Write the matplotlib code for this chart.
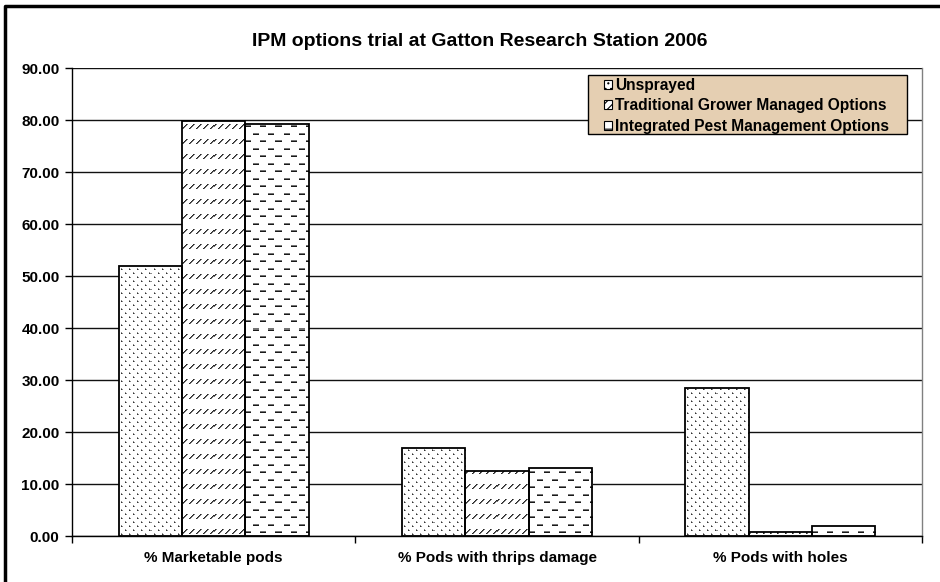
import numpy as np
import matplotlib
matplotlib.use("Agg")
import matplotlib.pyplot as plt
from matplotlib.patches import Patch, Rectangle
from matplotlib.lines import Line2D

plt.rcParams['font.family'] = ['Liberation Sans', 'DejaVu Sans']
plt.rcParams['font.weight'] = 'bold'
plt.rcParams['hatch.linewidth'] = 0.8

title = "IPM options trial at Gatton Research Station 2006"
categories = ["% Marketable pods", "% Pods with thrips damage", "% Pods with holes"]
series_names = ["Unsprayed", "Traditional Grower Managed Options",
                "Integrated Pest Management Options"]
unsprayed = [52.0, 16.9, 28.5]
traditional = [79.8, 12.5, 0.8]
ipm = [79.3, 13.0, 2.0]
yticks = np.arange(0, 100, 10)


# ---- fill textures (grey level images, 0 = black, 1 = white) ----
def tex_dots(h, w):
    t = np.ones((h, w))
    for r in range(h):
        if r % 4 != 1:
            continue
        shift = 4 * ((r // 4) % 2)
        for c in range(w):
            if (c + shift) % 8 == 2:
                t[r, c] = 0.2
                if c + 1 < w:
                    t[r, c + 1] = 0.55
                if r + 1 < h:
                    t[r + 1, c] = 0.55
    return t


def tex_slashes(h, w):
    t = np.ones((h, w))
    for r0 in range(2, h, 15):
        for c0 in range(0, w, 7):
            for k in range(5):
                r, c = r0 + k, c0 + k
                if r < h and c < w:
                    t[r, c] = 0.15
                if r < h and c + 1 < w:
                    t[r, c + 1] = min(t[r, c + 1], 0.45)
    return t


def tex_dashes(h, w):
    t = np.ones((h, w))
    for r0 in range(3, h, 15):
        for j, rr in enumerate((r0, r0 + 7)):
            shift = 7 * j
            for c in range(w):
                if (c + shift) % 15 < 6:
                    if rr < h:
                        t[rr, c] = 0.1
                    if rr + 1 < h:
                        t[rr + 1, c] = min(t[rr + 1, c], 0.45)
    return t


textures = [tex_dots, tex_slashes, tex_dashes]
legend_hatches = ['...', '////', '--']

fig = plt.figure(figsize=(9.4, 5.82), dpi=100)
W, H = 940, 582
ax = fig.add_axes([72 / W, 1 - 536 / H, 850 / W, 468 / H])

x = np.arange(len(categories))
width = 0.2235
series = [unsprayed, traditional, ipm]

ax.set_xlim(-0.5, 2.5)
ax.set_ylim(0, 90)

px_per_x = 850 / 3.0
px_per_y = 468 / 90.0

for i, vals in enumerate(series):
    pos = x + (i - 1) * width
    bars = ax.bar(pos, vals, width, color='white', edgecolor='none', zorder=2)
    for bar, v in zip(bars, vals):
        x0 = bar.get_x()
        wpx = max(int(round(width * px_per_x)), 1)
        hpx = max(int(round(v * px_per_y)), 1)
        tex = textures[i](hpx, wpx)
        im = ax.imshow(tex, extent=[x0, x0 + width, 0, v], origin='lower',
                       cmap='gray', vmin=0, vmax=1, interpolation='nearest',
                       aspect='auto', zorder=3)
        im.set_clip_path(bar)
    ax.bar(pos, vals, width, fill=False, edgecolor='black', linewidth=1.3,
           zorder=4)

ax.set_xlim(-0.5, 2.5)
ax.set_ylim(0, 90)
ax.set_aspect('auto')

ax.set_yticks(yticks)
ax.set_yticklabels([f"{v:.2f}" for v in yticks], fontsize=11, fontweight='bold')
ax.yaxis.grid(True, color='#111111', linewidth=1.0, zorder=0)
ax.set_axisbelow(True)
ax.tick_params(axis='y', direction='out', length=5, width=1, pad=4,
               colors='black')

ax.set_xticks([-0.5, 0.5, 1.5, 2.5])
ax.set_xticklabels([])
ax.set_xticks(x, minor=True)
ax.set_xticklabels(categories, minor=True, fontsize=11, fontweight='bold')
ax.tick_params(axis='x', which='major', direction='out', length=5, width=1)
ax.tick_params(axis='x', which='minor', length=0, pad=11)

ax.spines['top'].set_visible(False)
ax.spines['right'].set_color('#808080')
ax.spines['left'].set_color('black')
ax.spines['bottom'].set_color('black')
for s in ax.spines.values():
    s.set_linewidth(1.0)
    s.set_zorder(5)

fig.text(479.5 / W, 1 - 41 / H, title, ha='center', va='center',
         fontsize=14, fontweight='bold')

# legend box, then the entries laid inside it
box = Rectangle((588 / W, 1 - 134 / H), (907 - 588) / W, (134 - 75) / H,
                transform=fig.transFigure, facecolor='#e5cfb2',
                edgecolor='black', linewidth=1.0, zorder=6)
fig.add_artist(box)

handles = [Patch(facecolor='white', edgecolor='black', hatch=h, linewidth=0.8)
           for h in legend_hatches]
leg = fig.legend(handles, series_names, loc='upper left',
                 bbox_to_anchor=(604 / W, 1 - 78 / H),
                 bbox_transform=fig.transFigure, frameon=False,
                 prop={'size': 11.2, 'weight': 'bold'},
                 handlelength=0.5, handleheight=0.5, handletextpad=0.2,
                 labelspacing=0.35, borderpad=0, borderaxespad=0)
leg.set_zorder(7)

# outer chart border (left and top edges)
fig.add_artist(Line2D([5 / W, 5 / W, 1.0], [0.0, 1 - 6 / H, 1 - 6 / H],
                      transform=fig.transFigure, color='black', linewidth=2.5))

fig.savefig("out.png", dpi=100)
